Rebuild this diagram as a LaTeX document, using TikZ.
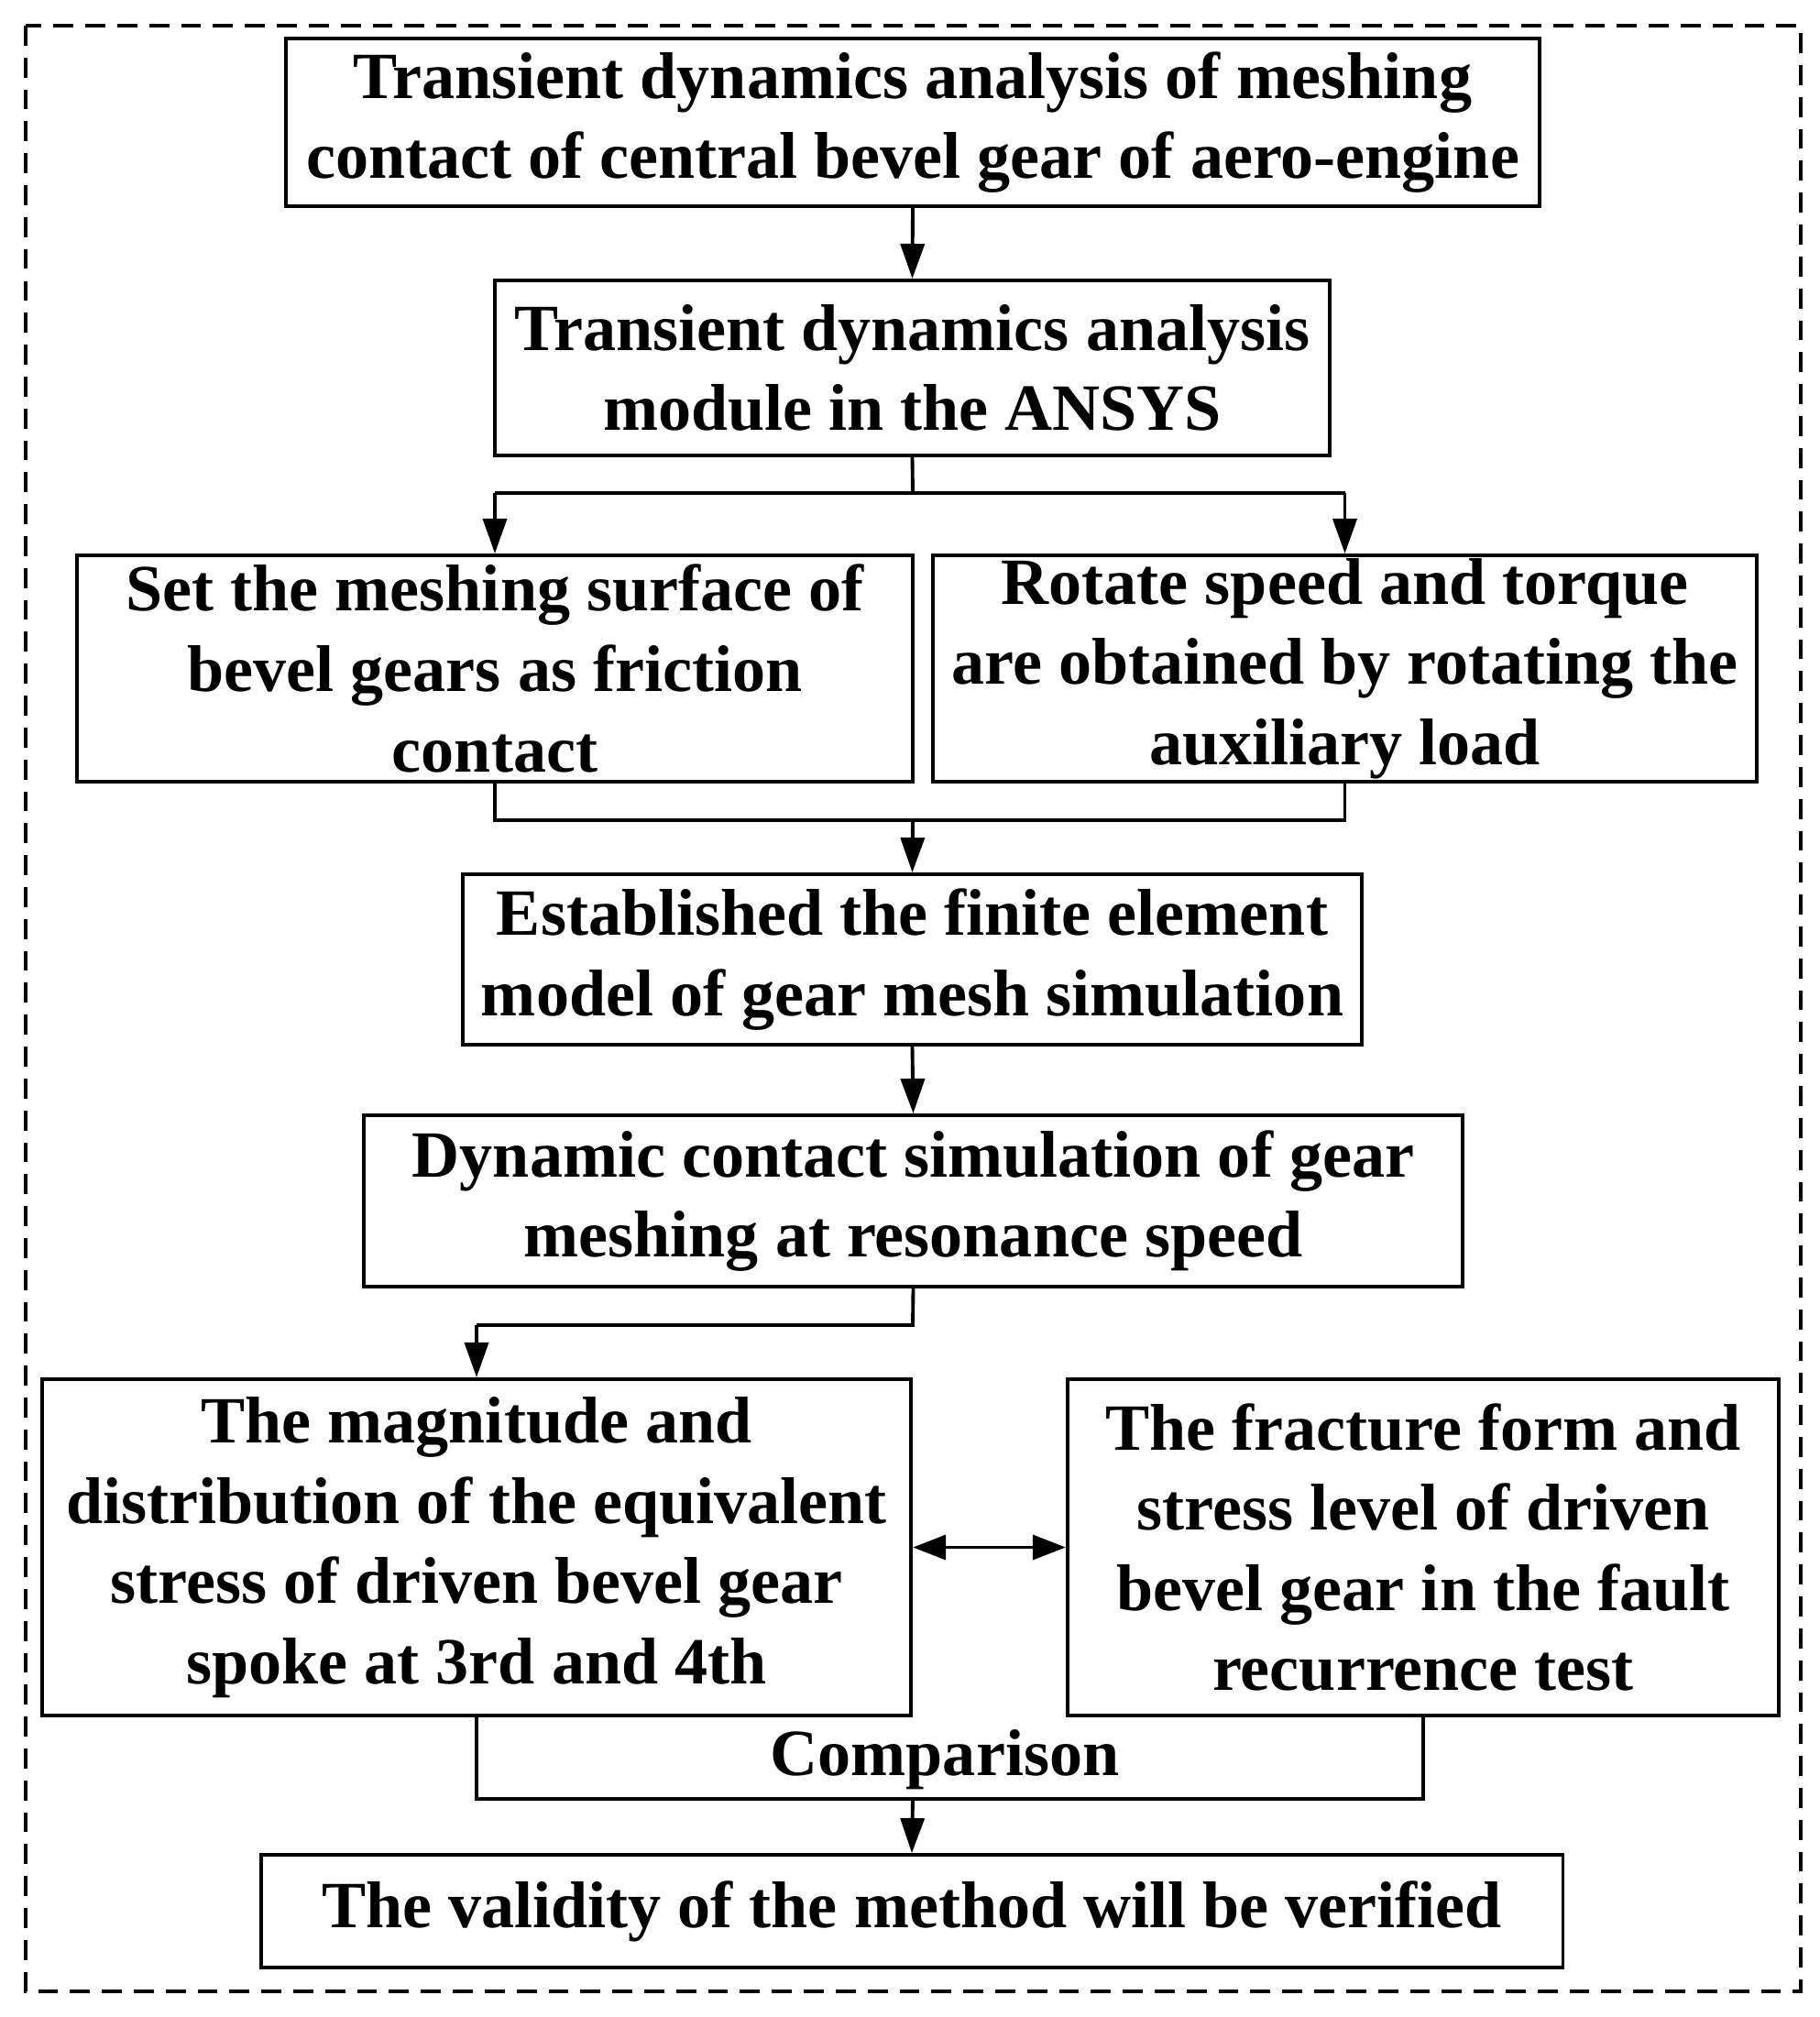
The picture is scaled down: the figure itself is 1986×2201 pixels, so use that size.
\documentclass[tikz,border=0pt]{standalone}
\usepackage{fontspec}
\setmainfont{Liberation Serif}
\usetikzlibrary{arrows.meta}
\begin{document}
\begin{tikzpicture}[x=0.01cm,y=-0.01cm,
  box/.style={draw,line width=1.1pt,align=center,inner sep=0pt,
    font=\fontsize{20.5pt}{24.9pt}\selectfont\bfseries},
  conn/.style={line width=1.1pt},
  arr/.style={line width=1.1pt,-{Triangle[length=3.8mm,width=2.6mm]}},
  darr/.style={line width=1.0pt,{Triangle[length=3.6mm,width=2.7mm]}-{Triangle[length=3.6mm,width=2.7mm]}}]
\useasboundingbox (0,0) rectangle (1986,2201);
\draw[line width=1.1pt,dash pattern=on 6.2pt off 3.7pt] (28,28) rectangle (1965,2173);
\node[box,minimum width=13.68cm,minimum height=1.83cm] (b1) at (996,133.5)
  {Transient dynamics analysis of meshing\\contact of central bevel gear of aero-engine};
\node[box,minimum width=9.11cm,minimum height=1.91cm] (b2) at (995.5,401.5)
  {Transient dynamics analysis\\module in the ANSYS};
\node[box,minimum width=9.12cm,minimum height=2.47cm] (b3a) at (540,729.5)
  {Set the meshing surface of\\bevel gears as friction\\contact};
\node[box,minimum width=8.99cm,minimum height=2.47cm] (b3b) at (1467.5,729.5)
  {Rotate speed and torque\\are obtained by rotating the\\auxiliary load};
\node[box,minimum width=9.81cm,minimum height=1.86cm] (b4) at (995.5,1047)
  {Established the finite element\\model of gear mesh simulation};
\node[box,minimum width=11.99cm,minimum height=1.87cm] (b5) at (996.5,1310.5)
  {Dynamic contact simulation of gear\\meshing at resonance speed};
\node[box,minimum width=9.48cm,minimum height=3.67cm] (b6a) at (520,1688.5)
  {The magnitude and\\distribution of the equivalent\\stress of driven bevel gear\\spoke at 3rd and 4th};
\node[box,minimum width=7.76cm,minimum height=3.67cm] (b6b) at (1553,1688.5)
  {The fracture form and\\stress level of driven\\bevel gear in the fault\\recurrence test};
\node[box,minimum width=14.20cm,minimum height=1.23cm] (b7) at (995,2085.5)
  {The validity of the method will be verified};
\node[font=\fontsize{20.5pt}{24.9pt}\selectfont\bfseries,inner sep=0pt] (cmp) at (1031,1920) {Comparison};
% coordinates
\coordinate (s1) at (996,538);
\coordinate (s1l) at (540,538);
\coordinate (s1r) at (1467.5,538);
\coordinate (m1) at (996,895);
\coordinate (m1l) at (540,895);
\coordinate (m1r) at (1467.5,895);
\coordinate (s2) at (996,1446);
\coordinate (s2l) at (520,1446);
\coordinate (c1) at (996,1963);
\coordinate (c1l) at (520,1963);
\coordinate (c1r) at (1553,1963);
% connectors
\draw[arr] (b1.south) -- (b2.north);
\draw[conn] (b2.south) -- (s1);
\draw[conn] (s1l) -- (s1r);
\draw[arr] (s1l) -- (b3a.north);
\draw[arr] (s1r) -- (b3b.north);
\draw[conn] (b3a.south) -- (m1l) -- (m1r) -- (b3b.south);
\draw[arr] (m1) -- (b4.north);
\draw[arr] (b4.south) -- (b5.north);
\draw[conn] (b5.south) -- (s2) -- (s2l);
\draw[arr] (s2l) -- (b6a.north);
\draw[darr] (b6a.east) -- (b6b.west);
\draw[conn] (b6a.south) -- (c1l) -- (c1r) -- (b6b.south);
\draw[arr] (c1) -- (b7.north);
\end{tikzpicture}
\end{document}
